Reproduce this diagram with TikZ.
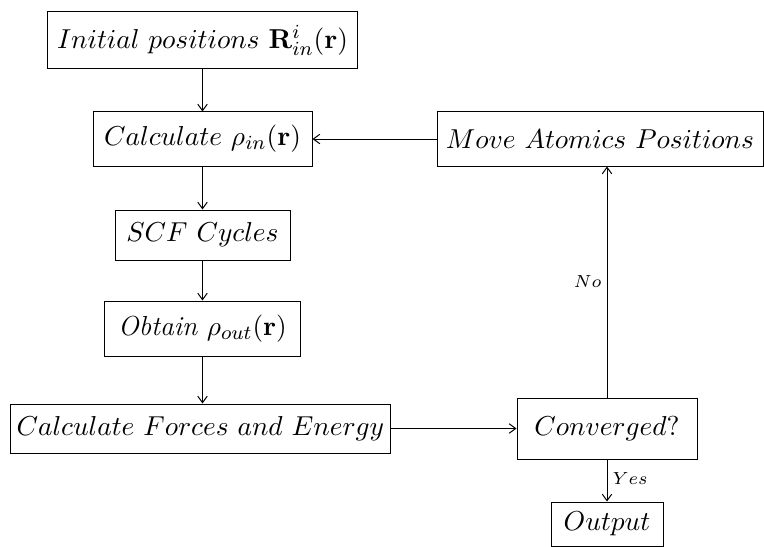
\documentclass[tikz,border=0pt]{standalone}
\usetikzlibrary{arrows.meta}
\begin{document}
\begin{tikzpicture}[x=0.4pt,y=-0.4pt,
  box/.style={draw,line width=0.4pt,inner sep=0pt,font=\fontsize{11}{13}\selectfont},
  conn/.style={-{Straight Barb[length=2.6pt,width=3.8pt]},line width=0.4pt},
  lbl/.style={font=\scriptsize,inner sep=2pt}]
\useasboundingbox (0,0) rectangle (764,546);
\node[box,minimum width=124pt,minimum height=22.8pt] (init) at (202.5,40.5) {$Initial\ positions\ \mathbf{R}^i_{in}(\mathbf{r})$};
\node[box,minimum width=87.6pt,minimum height=21.6pt] (calc) at (202.5,139) {$Calculate\ \rho_{in}(\mathbf{r})$};
\node[box,minimum width=70pt,minimum height=20pt] (scf) at (202.5,235) {$SCF\ Cycles$};
\node[box,minimum width=78.4pt,minimum height=22pt] (obt) at (202.5,328.5) {\textit{Obtain} $\rho_{out}(\mathbf{r})$};
\node[box,minimum width=151.6pt,minimum height=19.6pt] (forc) at (200.5,428.5) {$Calculate\ Forces\ and\ Energy$};
\node[box,minimum width=72pt,minimum height=24.4pt] (conv) at (607,428.5) {$Converged?$};
\node[box,minimum width=44.8pt,minimum height=17.6pt] (out) at (607,524) {$Output$};
\node[box,minimum width=130.4pt,minimum height=21.6pt] (move) at (600,139) {$Move\ Atomics\ Positions$};
\draw[conn] (init) -- (calc);
\draw[conn] (calc) -- (scf);
\draw[conn] (scf) -- (obt);
\draw[conn] (obt.south) -- (obt.south |- forc.north);
\draw[conn] (forc) -- (conv);
\draw[conn] (conv.north) -- node[lbl,left,pos=0.5] {$No$} (conv.north |- move.south);
\draw[conn] (conv) -- node[lbl,right,pos=0.45] {$Yes$} (out);
\draw[conn] (move) -- (calc);
\end{tikzpicture}
\end{document}
